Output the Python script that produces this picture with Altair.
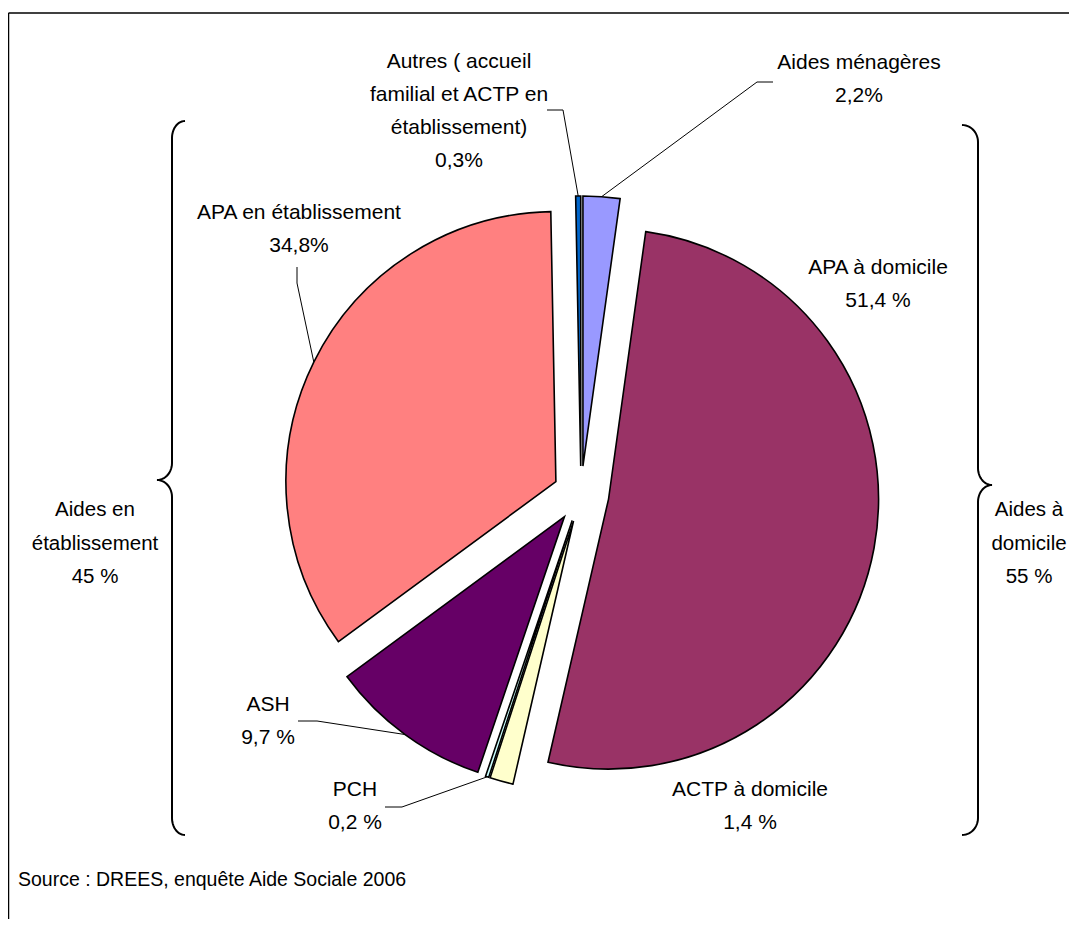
import math
import numpy as np
import pandas as pd
import altair as alt

# ---------------- data ----------------
categories = [
    "Aides ménagères",
    "APA à domicile",
    "ACTP à domicile",
    "PCH",
    "ASH",
    "APA en établissement",
    "Autres ( accueil familial et ACTP en établissement)",
]
values = [2.2, 51.4, 1.4, 0.2, 9.7, 34.8, 0.3]
label_lines = [
    ["Aides ménagères", "2,2%"],
    ["APA à domicile", "51,4 %"],
    ["ACTP à domicile", "1,4 %"],
    ["PCH", "0,2 %"],
    ["ASH", "9,7 %"],
    ["APA en établissement", "34,8%"],
    ["Autres ( accueil", "familial et ACTP en", "établissement)", "0,3%"],
]
colors = ["#9999FF", "#993366", "#FFFFCC", "#CCFFFF", "#660066", "#FF8080", "#0066CC"]

group_labels = [["Aides en", "établissement", "45 %"], ["Aides à", "domicile", "55 %"]]
source_text = "Source : DREES, enquête  Aide Sociale 2006"

# ---------------- layout (pixels in plot area) ----------------
W, H = 1061, 911
CX, CY = 573, 486      # pie centre
R = 270                # pie radius
EXPLODE = 28           # distance each slice is pulled out
FONT = "Liberation Sans, Arial, sans-serif"

# centre x and first-line y of each slice label
label_x = [851, 870, 742, 347, 260, 291, 451]
label_y = [55, 260, 782, 782, 697, 205, 54]
elbow_x = [749, None, None, 394, 309, 289, 555]
elbow_y = [74, None, None, 799, 713, 275, 102]
end_x = [765, None, None, 377, 290, 289, 539]
end_y = [74, None, None, 799, 713, 259, 102]

df = pd.DataFrame({
    "category": categories,
    "value": values,
    "order": list(range(len(categories))),
    "elbow_x": elbow_x, "elbow_y": elbow_y,
    "end_x": end_x, "end_y": end_y,
})

labels_df = pd.DataFrame({"text": label_lines, "x": label_x, "y": label_y})
groups_df = pd.DataFrame({"text": group_labels, "x": [87, 1021], "y": [502, 502]})
source_df = pd.DataFrame({"text": [source_text], "x": [10], "y": [872]})


def brace(name, x_end, x_mid, x_tip, y_top, y_tip, y_bot, ry=17, n=14):
    pts = []
    t = np.linspace(0, np.pi / 2, n)
    for a in t:
        pts.append((x_mid + (x_end - x_mid) * (1 - np.sin(a)), y_top + ry * (1 - np.cos(a))))
    for a in t:
        pts.append((x_mid - (x_mid - x_tip) * (1 - np.cos(a)), y_tip - ry + ry * np.sin(a)))
    for a in t[::-1]:
        pts.append((x_mid - (x_mid - x_tip) * (1 - np.cos(a)), y_tip + ry - ry * np.sin(a)))
    for a in t[::-1]:
        pts.append((x_mid + (x_end - x_mid) * (1 - np.sin(a)), y_bot - ry * (1 - np.cos(a))))
    return pd.DataFrame({"brace": name, "i": range(len(pts)),
                         "x": [p[0] for p in pts], "y": [p[1] for p in pts]})


braces_df = pd.concat([
    brace("left", 177, 164, 149, 113, 472, 827),
    brace("right", 954, 970, 984, 117, 477, 827),
])

# ---------------- chart ----------------
base = (
    alt.Chart(df)
    .transform_window(cum="sum(value)", sort=[alt.SortField("order")], frame=[None, 0])
    .transform_calculate(start="datum.cum - datum.value")
    .transform_calculate(mid="(datum.cum - datum.value / 2) * 2 * PI / 100")
    .transform_calculate(cx=f"{CX} + {EXPLODE} * sin(datum.mid)")
    .transform_calculate(cy=f"{CY} - {EXPLODE} * cos(datum.mid)")
)

pie = base.mark_arc(outerRadius=R, stroke="black", strokeWidth=1.6, strokeJoin="miter").encode(
    theta=alt.Theta("start:Q", scale=alt.Scale(domain=[0, 100], range=[0, 2 * math.pi]), stack=None),
    theta2=alt.Theta2("cum:Q"),
    x=alt.X("cx:Q", scale=None, stack=None),
    y=alt.Y("cy:Q", scale=None, stack=None),
    color=alt.Color("category:N", scale=alt.Scale(domain=categories, range=colors), legend=None),
)

leaders = base.transform_filter("datum.elbow_x != null").transform_calculate(
    ax=f"datum.cx + {R} * sin(datum.mid)"
).transform_calculate(
    ay=f"datum.cy - {R} * cos(datum.mid)"
)

leader1 = leaders.mark_rule(color="black", strokeWidth=1).encode(
    x=alt.X("ax:Q", scale=None), y=alt.Y("ay:Q", scale=None),
    x2="elbow_x:Q", y2="elbow_y:Q",
)
leader2 = leaders.mark_rule(color="black", strokeWidth=1).encode(
    x=alt.X("elbow_x:Q", scale=None), y=alt.Y("elbow_y:Q", scale=None),
    x2="end_x:Q", y2="end_y:Q",
)

labels = alt.Chart(labels_df).mark_text(
    font=FONT, fontSize=21, lineHeight=33, align="center", baseline="middle", color="black"
).encode(x=alt.X("x:Q", scale=None), y=alt.Y("y:Q", scale=None), text="text")

groups = alt.Chart(groups_df).mark_text(
    font=FONT, fontSize=20.5, lineHeight=33.5, align="center", baseline="middle", color="black"
).encode(x=alt.X("x:Q", scale=None), y=alt.Y("y:Q", scale=None), text="text")

source = alt.Chart(source_df).mark_text(
    font=FONT, fontSize=19.5, align="left", baseline="middle", color="black"
).encode(x=alt.X("x:Q", scale=None), y=alt.Y("y:Q", scale=None), text="text:N")

braces = alt.Chart(braces_df).mark_line(color="black", strokeWidth=2).encode(
    x=alt.X("x:Q", scale=None), y=alt.Y("y:Q", scale=None),
    detail="brace:N", order="i:Q",
)

frame_df = pd.DataFrame({"x": [0.5, 0.5], "y": [5, 5], "x2": [W, 0.5], "y2": [5, H]})
frame = alt.Chart(frame_df).mark_rule(color="black", strokeWidth=1.5).encode(
    x=alt.X("x:Q", scale=None), y=alt.Y("y:Q", scale=None), x2="x2:Q", y2="y2:Q"
)

chart = (
    alt.layer(frame, braces, leader1, leader2, pie, labels, groups, source)
    .properties(width=W, height=H, padding=0, autosize="none", background="white")
    .configure_view(stroke=None)
)

chart.save("out.html", embed_options={"renderer": "svg", "actions": False})
